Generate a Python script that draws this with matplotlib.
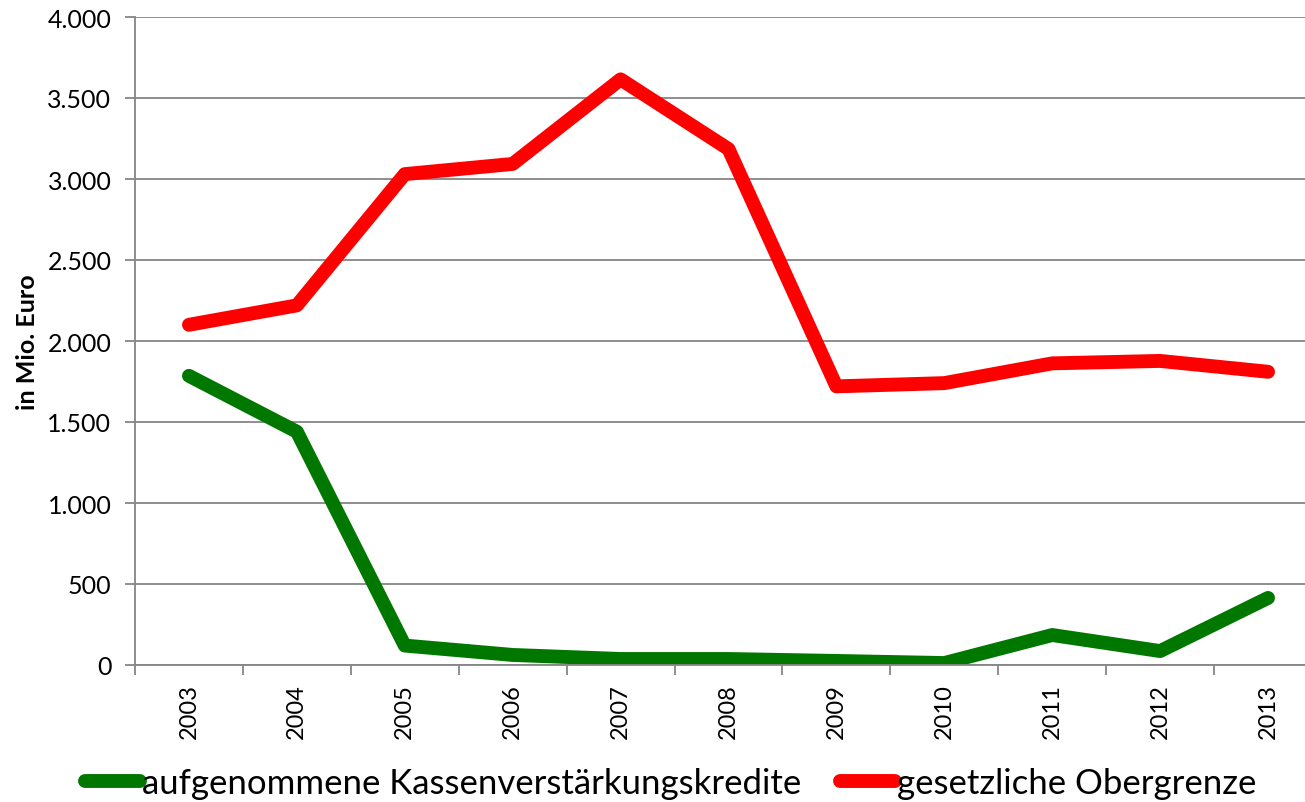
import matplotlib.pyplot as plt
from matplotlib.ticker import FuncFormatter
import numpy as np

years = ["2003", "2004", "2005", "2006", "2007", "2008", "2009", "2010", "2011", "2012", "2013"]
kredite = [1785, 1440, 120, 62, 37, 37, 25, 12, 185, 86, 414]
obergrenze = [2100, 2220, 3030, 3093, 3615, 3185, 1720, 1740, 1862, 1877, 1810]

plt.rcParams['font.family'] = ['Lato', 'DejaVu Sans']

fig = plt.figure(figsize=(13.05, 8.03), dpi=100)
ax = fig.add_axes([135 / 1305, 137 / 803, (1322 - 135) / 1305, (666 - 18) / 803])

x = np.arange(len(years))
ax.plot(x, kredite, color="#007800", lw=10, solid_capstyle="round", solid_joinstyle="round",
        label="aufgenommene Kassenverstärkungskredite")
ax.plot(x, obergrenze, color="#ff0000", lw=10, solid_capstyle="round", solid_joinstyle="round",
        label="gesetzliche Obergrenze")

grey = "#868686"
ax.set_xlim(-0.5, len(years) - 0.5)
ax.set_ylim(0, 4000)
ax.set_yticks(np.arange(0, 4001, 500))
ax.yaxis.set_major_formatter(FuncFormatter(lambda v, p: f"{int(v):,}".replace(",", ".")))
ax.set_xticks(x)
ax.set_xticklabels(years, rotation=90)
ax.set_xticks(np.arange(-0.5, len(years), 1), minor=True)
ax.tick_params(axis="x", which="major", length=0, pad=13, labelsize=17)
ax.tick_params(axis="x", which="minor", length=7, color=grey, width=1.3)
ax.tick_params(axis="y", length=7, color=grey, width=1.3, labelsize=18, pad=10)
ax.grid(axis="y", color=grey, lw=1.3)
ax.set_axisbelow(True)
for s in ["top", "right"]:
    ax.spines[s].set_visible(False)
for s in ["left", "bottom"]:
    ax.spines[s].set_color(grey)
    ax.spines[s].set_linewidth(1.3)
ax.set_ylabel("in Mio. Euro", fontsize=18, fontweight="bold", labelpad=6)

fig.legend(loc="lower left", bbox_to_anchor=(71 / 1305, -0.014), ncol=2, frameon=False,
           fontsize=25, handlelength=1.6, handletextpad=0.05, columnspacing=1.1,
           borderaxespad=0)

plt.savefig("out.png", dpi=100)
